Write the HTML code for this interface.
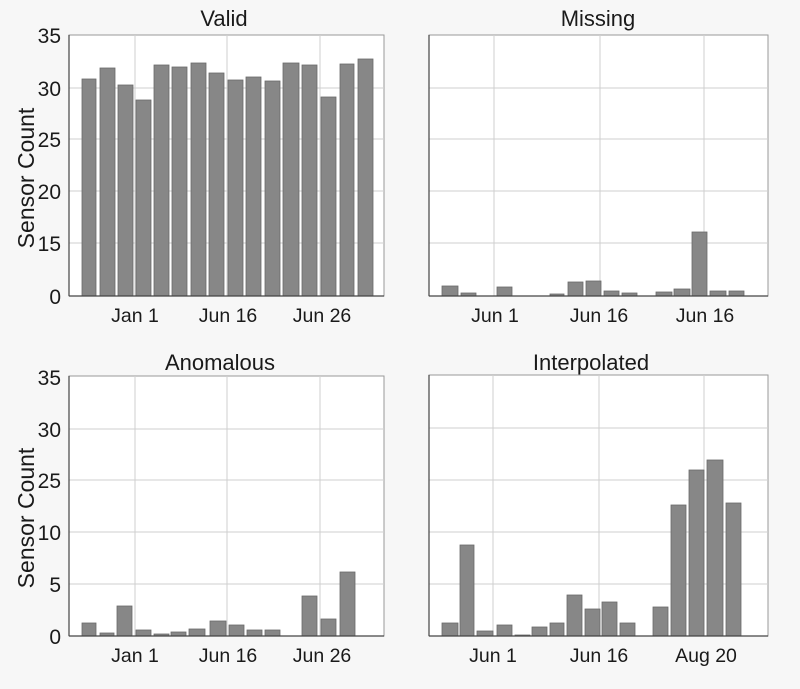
<!DOCTYPE html>
<html><head><meta charset="utf-8"><style>
html,body{margin:0;padding:0;background:#f7f7f7;}
svg{display:block}
text{font-family:"Liberation Sans",sans-serif;fill:#1a1a1a}
</style></head><body>
<svg width="800" height="689" viewBox="0 0 800 689" xmlns="http://www.w3.org/2000/svg">
<rect width="800" height="689" fill="#f7f7f7"/>
<rect x="69" y="35" width="315" height="261" fill="#fff" stroke="#999" stroke-width="1"/>
<rect x="429" y="35" width="339" height="261" fill="#fff" stroke="#999" stroke-width="1"/>
<rect x="69" y="376" width="315" height="260" fill="#fff" stroke="#999" stroke-width="1"/>
<rect x="429" y="375" width="339" height="261" fill="#fff" stroke="#999" stroke-width="1"/>
<g stroke="#cfcfcf" stroke-width="1">
<line x1="135" y1="35" x2="135" y2="296"/><line x1="227" y1="35" x2="227" y2="296"/><line x1="320" y1="35" x2="320" y2="296"/>
<line x1="69" y1="88" x2="384" y2="88"/><line x1="69" y1="139" x2="384" y2="139"/><line x1="69" y1="191" x2="384" y2="191"/><line x1="69" y1="243" x2="384" y2="243"/>
<line x1="494" y1="35" x2="494" y2="296"/><line x1="600" y1="35" x2="600" y2="296"/><line x1="704" y1="35" x2="704" y2="296"/>
<line x1="429" y1="88" x2="768" y2="88"/><line x1="429" y1="139" x2="768" y2="139"/><line x1="429" y1="191" x2="768" y2="191"/><line x1="429" y1="243" x2="768" y2="243"/>
<line x1="135" y1="376" x2="135" y2="636"/><line x1="227" y1="376" x2="227" y2="636"/><line x1="320" y1="376" x2="320" y2="636"/>
<line x1="69" y1="429" x2="384" y2="429"/><line x1="69" y1="480" x2="384" y2="480"/><line x1="69" y1="532" x2="384" y2="532"/><line x1="69" y1="584" x2="384" y2="584"/>
<line x1="493" y1="375" x2="493" y2="636"/><line x1="599" y1="375" x2="599" y2="636"/><line x1="704" y1="375" x2="704" y2="636"/>
<line x1="429" y1="428" x2="768" y2="428"/><line x1="429" y1="480" x2="768" y2="480"/><line x1="429" y1="532" x2="768" y2="532"/><line x1="429" y1="584" x2="768" y2="584"/>
</g>
<g fill="#878787" stroke="#6a6a6a" stroke-width="0.8">
<rect x="82" y="79" width="14" height="217"/><rect x="100" y="68" width="15" height="228"/><rect x="118" y="85" width="15" height="211"/><rect x="136" y="100" width="15" height="196"/>
<rect x="154" y="65" width="15" height="231"/><rect x="172" y="67" width="15" height="229"/><rect x="191" y="63" width="15" height="233"/><rect x="209" y="73" width="15" height="223"/>
<rect x="228" y="80" width="15" height="216"/><rect x="246" y="77" width="15" height="219"/><rect x="265" y="81" width="15" height="215"/><rect x="283" y="63" width="16" height="233"/>
<rect x="302" y="65" width="15" height="231"/><rect x="321" y="97" width="15" height="199"/><rect x="340" y="64" width="14" height="232"/><rect x="358" y="59" width="15" height="237"/>
<rect x="442" y="286" width="16" height="10"/><rect x="461" y="293" width="15" height="3"/><rect x="497" y="287" width="15" height="9"/><rect x="550" y="294" width="14" height="2"/>
<rect x="568" y="282" width="15" height="14"/><rect x="586" y="281" width="15" height="15"/><rect x="604" y="291" width="15" height="5"/><rect x="622" y="293" width="15" height="3"/>
<rect x="656" y="292" width="16" height="4"/><rect x="674" y="289" width="16" height="7"/><rect x="692" y="232" width="15" height="64"/><rect x="710" y="291" width="16" height="5"/><rect x="729" y="291" width="15" height="5"/>
<rect x="82" y="623" width="14" height="13"/><rect x="100" y="633" width="14" height="3"/><rect x="117" y="606" width="15" height="30"/><rect x="136" y="630" width="15" height="6"/>
<rect x="154" y="634" width="15" height="2"/><rect x="171" y="632" width="15" height="4"/><rect x="189" y="629" width="16" height="7"/><rect x="210" y="621" width="16" height="15"/>
<rect x="229" y="625" width="15" height="11"/><rect x="247" y="630" width="15" height="6"/><rect x="265" y="630" width="15" height="6"/>
<rect x="302" y="596" width="15" height="40"/><rect x="321" y="619" width="15" height="17"/><rect x="340" y="572" width="15" height="64"/>
<rect x="442" y="623" width="16" height="13"/><rect x="460" y="545" width="14" height="91"/><rect x="477" y="631" width="16" height="5"/><rect x="497" y="625" width="15" height="11"/>
<rect x="515" y="635" width="15" height="1"/><rect x="532" y="627" width="15" height="9"/><rect x="550" y="623" width="14" height="13"/><rect x="567" y="595" width="15" height="41"/>
<rect x="585" y="609" width="15" height="27"/><rect x="602" y="602" width="15" height="34"/><rect x="620" y="623" width="15" height="13"/>
<rect x="653" y="607" width="15" height="29"/><rect x="671" y="505" width="15" height="131"/><rect x="689" y="470" width="15" height="166"/><rect x="707" y="460" width="16" height="176"/><rect x="726" y="503" width="15" height="133"/>
</g>
<g stroke="#444" stroke-width="1.2">
<line x1="69" y1="35" x2="69" y2="296"/><line x1="69" y1="296" x2="384" y2="296"/>
<line x1="429" y1="35" x2="429" y2="296"/><line x1="429" y1="296" x2="768" y2="296"/>
<line x1="69" y1="376" x2="69" y2="636"/><line x1="69" y1="636" x2="384" y2="636"/>
<line x1="429" y1="375" x2="429" y2="636"/><line x1="429" y1="636" x2="768" y2="636"/>
</g>
<g font-size="22" text-anchor="middle">
<text x="224" y="26">Valid</text><text x="598" y="26">Missing</text>
<text x="220" y="370">Anomalous</text><text x="591" y="370">Interpolated</text>
</g>
<g font-size="21" text-anchor="end">
<text x="61" y="43">35</text><text x="61" y="96">30</text><text x="61" y="147">25</text><text x="61" y="199">20</text><text x="61" y="251">15</text><text x="61" y="304">0</text>
<text x="61" y="385">35</text><text x="61" y="437">30</text><text x="61" y="488">25</text><text x="61" y="540">10</text><text x="61" y="592">5</text><text x="61" y="644">0</text>
</g>
<g font-size="23" text-anchor="middle">
<text transform="translate(34,178) rotate(-90)">Sensor Count</text>
<text transform="translate(34,518) rotate(-90)">Sensor Count</text>
</g>
<g font-size="19.5" text-anchor="middle">
<text x="135" y="322">Jan 1</text><text x="228" y="322">Jun 16</text><text x="322" y="322">Jun 26</text>
<text x="495" y="322">Jun 1</text><text x="599" y="322">Jun 16</text><text x="705" y="322">Jun 16</text>
<text x="135" y="662">Jan 1</text><text x="228" y="662">Jun 16</text><text x="322" y="662">Jun 26</text>
<text x="493" y="662">Jun 1</text><text x="599" y="662">Jun 16</text><text x="706" y="662">Aug 20</text>
</g>
</svg>
</body></html>
